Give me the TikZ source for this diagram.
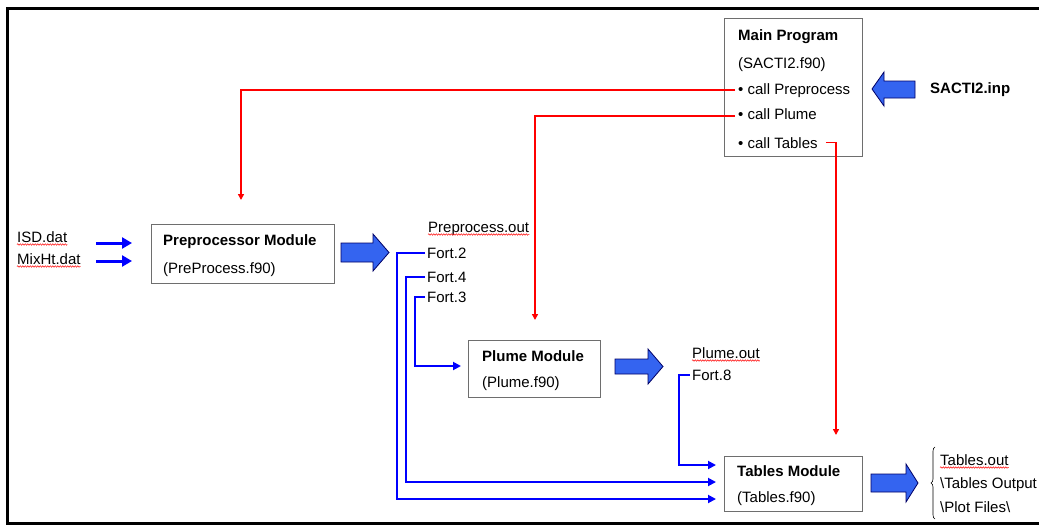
\documentclass[tikz,border=0pt]{standalone}
\usepackage{fontspec}
\setmainfont{Liberation Sans}
\usetikzlibrary{arrows.meta,decorations.pathreplacing,decorations.pathmorphing,calc}
\definecolor{arrowblue}{RGB}{52,100,240}
\definecolor{boxgray}{RGB}{110,110,110}
\begin{document}
\begin{tikzpicture}[x=1pt,y=-1pt,
  modbox/.style={draw=boxgray, line width=1.3pt, anchor=north west, inner sep=0pt},
  txt/.style={anchor=base west, inner sep=0pt, font=\fontsize{15}{17}\selectfont},
  btxt/.style={anchor=base west, inner sep=0pt, font=\fontsize{15}{17}\selectfont\bfseries},
  redc/.style={draw=red, line width=1.7pt, -{Triangle[length=6pt,width=6pt]}},
  bluec/.style={draw=blue, line width=1.9pt, -{Triangle[length=8pt,width=8pt]}},
  inarr/.style={draw=blue, line width=3pt, -{Triangle[length=10pt,width=11pt]}},
  bigarr/.style={fill=arrowblue, draw=black!60!blue, line width=0.8pt, line join=miter},
  squig/.style={draw=red, line width=0.5pt, decorate, decoration={snake, amplitude=0.7pt, segment length=2.5pt}}
]
\useasboundingbox (0,0) rectangle (1039,525);
\clip (0,0) rectangle (1039,525);
\fill[white] (0,0) rectangle (1039,525);
% frame
\draw[black, line width=3pt] (1039,8) -- (7,8) -- (7,523.5) -- (1039,523.5);

% boxes
\node[modbox, minimum width=138pt, minimum height=138pt] (main) at (724,18) {};
\node[modbox, minimum width=183pt, minimum height=59pt] (pre) at (151,224) {};
\node[modbox, minimum width=132pt, minimum height=57pt] (plume) at (468,340) {};
\node[modbox, minimum width=138pt, minimum height=55pt] (tables) at (724,456) {};

% main program texts
\node[btxt] (mainT) at (738,40) {Main Program};
\node[txt] (mainF) at (738,68) {(SACTI2.f90)};
\node[txt] (cpre) at (738,94) {• call Preprocess};
\node[txt] (cplu) at (738,119) {• call Plume};
\node[txt] (ctab) at (738,148) {• call Tables};
\node[btxt] (inp) at (930,93) {SACTI2.inp};

% preprocessor
\node[btxt] (preT) at (163,245) {Preprocessor Module};
\node[txt] (preF) at (163,273) {(PreProcess.f90)};
\node[txt] (isd) at (17,242) {ISD.dat};
\node[txt] (mix) at (17,264) {MixHt.dat};
\node[txt] (ppout) at (428,232) {Preprocess.out};
\node[txt] (f2) at (427,258) {Fort.2};
\node[txt] (f4) at (427,282) {Fort.4};
\node[txt] (f3) at (427,302) {Fort.3};

% plume
\node[btxt] (pluT) at (482,361) {Plume Module};
\node[txt] (pluF) at (482,387) {(Plume.f90)};
\node[txt] (plout) at (692,358) {Plume.out};
\node[txt] (f8) at (692,380) {Fort.8};

% tables
\node[btxt] (tabT) at (737,476) {Tables Module};
\node[txt] (tabF) at (737,502) {(Tables.f90)};
\node[txt] (tout) at (940,465) {Tables.out};
\node[txt] (tout2) at (940,488) {\textbackslash Tables Output};
\node[txt] (tout3) at (940,512) {\textbackslash Plot Files\textbackslash};
\draw[line width=0.6pt, decorate, decoration={brace, amplitude=4pt}] (935,519) -- (935,447);

% spell-check squiggles
\foreach \n in {isd,mix,ppout,plout,tout}
  \draw[squig] ([yshift=-2.5pt]\n.base west) -- ([yshift=-2.5pt]\n.base east);

% red calls
\coordinate (preIn) at (241,200);
\coordinate (pluIn) at (535,320);
\coordinate (tabIn) at (836,435);
\draw[redc] ([xshift=-3pt]cpre.west) -| (preIn);
\draw[redc] ([xshift=-3pt,yshift=-2.5pt]cplu.west) -| (pluIn);
\draw[redc] ([xshift=8pt]ctab.east) -| (tabIn);

% blue file flows
\coordinate (tin1) at (716,465);
\coordinate (tin2) at (716,482);
\coordinate (tin3) at (716,499);
\coordinate (pin3) at (461,366);
\draw[bluec] ([xshift=-2pt]f2.west) -- ++(-28,0) |- (tin3);
\draw[bluec] ([xshift=-2pt]f4.west) -- ++(-19,0) |- (tin2);
\draw[bluec] ([xshift=-2pt]f3.west) -- ++(-10,0) |- (pin3);
\draw[bluec] ([xshift=-2pt]f8.west) -- ++(-11,0) |- (tin1);

% input arrows
\coordinate (a1s) at (96,243); \coordinate (a1e) at (132,243);
\coordinate (a2s) at (96,261); \coordinate (a2e) at (132,261);
\draw[inarr] (a1s) -- (a1e);
\draw[inarr] (a2s) -- (a2e);

% big block arrows
\draw[bigarr] (872,89) -- (884,72) -- (884,81) -- (915,81) -- (915,98) -- (884,98) -- (884,106) -- cycle;
\draw[bigarr] (341,243) -- (373,243) -- (373,234) -- (389,252.5) -- (373,271) -- (373,262) -- (341,262) -- cycle;
\draw[bigarr] (615,359) -- (648,359) -- (648,349) -- (663,366.5) -- (648,384) -- (648,374) -- (615,374) -- cycle;
\draw[bigarr] (871,474) -- (906,474) -- (906,464) -- (918,483) -- (906,502) -- (906,492) -- (871,492) -- cycle;
\end{tikzpicture}
\end{document}
